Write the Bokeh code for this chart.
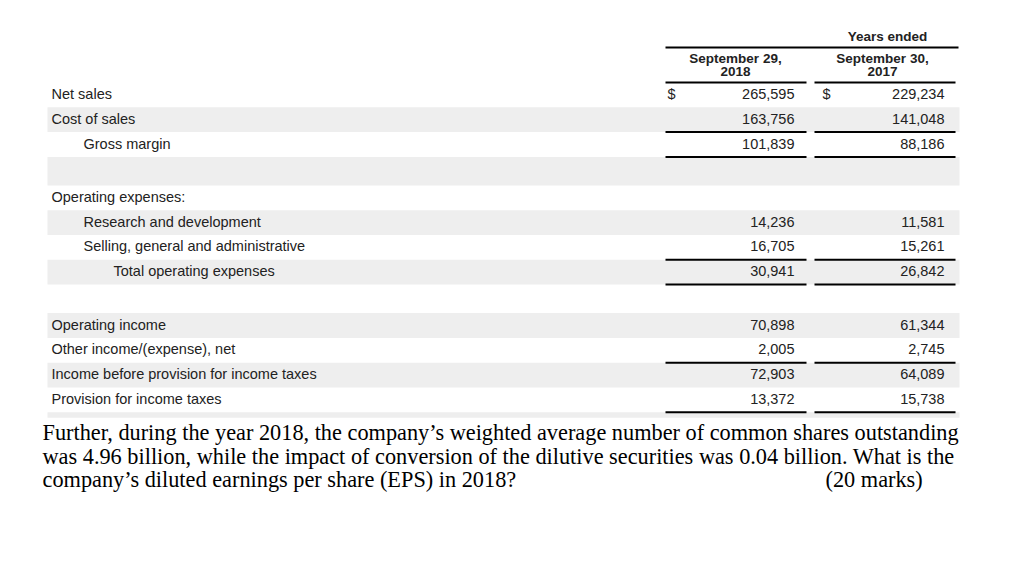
from bokeh.plotting import figure
from bokeh.models import ColumnDataSource, Range1d
from bokeh.embed import file_html
from bokeh.resources import INLINE
from bokeh.core.properties import value

# ---------------- data ----------------
row_labels = ["Net sales", "Cost of sales", "Gross margin", "",
              "Operating expenses:", "Research and development",
              "Selling, general and administrative", "Total operating expenses", "",
              "Operating income", "Other income/(expense), net",
              "Income before provision for income taxes", "Provision for income taxes", ""]
row_indent = [0, 0, 1, 0, 0, 1, 1, 2, 0, 0, 0, 0, 0, 0]
values_2018 = [265595, 163756, 101839, None, None, 14236, 16705, 30941, None,
               70898, 2005, 72903, 13372, None]
values_2017 = [229234, 141048, 88186, None, None, 11581, 15261, 26842, None,
               61344, 2745, 64089, 15738, None]
dollar_rows = [0]
rule_rows = [0, 2, 3, 7, 8, 11, 13]          # rows with a rule above them
header_top = "Years ended"
col_header_1 = ["September 29,", "2018"]
col_header_2 = ["September 30,", "2017"]
question_lines = [
    "Further, during the year 2018, the company\u2019s weighted average number of common shares outstanding",
    "was 4.96 billion, while the impact of conversion of the dilutive securities was 0.04 billion. What is the",
    "company\u2019s diluted earnings per share (EPS) in 2018?",
]
marks_text = "(20 marks)"

# ---------------- layout ----------------
W, H = 1019, 545
p = figure(width=W, height=H, output_backend="svg", toolbar_location=None,
           x_range=Range1d(0, W), y_range=Range1d(H, 0),
           min_border=0, x_axis_location=None, y_axis_location=None)
p.grid.visible = False
p.outline_line_color = None
p.background_fill_color = "white"
p.border_fill_color = "white"

SANS = value("Liberation Sans")
SERIF = value("Liberation Serif")

row_h = [28.5 if (lab == "" and i < 13) else 24.8 for i, lab in enumerate(row_labels)]
tops = []
t = 82.0
for h in row_h:
    tops.append(t)
    t += h
bottoms = [tp + h for tp, h in zip(tops, row_h)]
bottoms[-1] = tops[-1] + 5.5
mids = [(a + b) / 2 - 1 for a, b in zip(tops, bottoms)]

# shaded bands
band_idx = [i for i in range(len(row_labels)) if i % 2 == 1]
p.quad(left=47, right=959, top=[tops[i] for i in band_idx], bottom=[bottoms[i] for i in band_idx],
       fill_color="#eeeeee", line_color=None)

# labels
indent_x = [51, 83, 113]
lab_src = ColumnDataSource(dict(
    x=[indent_x[row_indent[i]] for i in range(len(row_labels)) if row_labels[i]],
    y=[mids[i] for i in range(len(row_labels)) if row_labels[i]],
    t=[row_labels[i] for i in range(len(row_labels)) if row_labels[i]]))
p.text(x="x", y="y", text="t", source=lab_src, text_font=SANS, text_font_size="14.5px",
       text_color="#222222", text_baseline="middle", text_align="left")

# values
col_right = [794, 944]
for cx, vals in zip(col_right, [values_2018, values_2017]):
    idx = [i for i, v in enumerate(vals) if v is not None]
    src = ColumnDataSource(dict(x=[cx] * len(idx), y=[mids[i] for i in idx],
                                t=[f"{vals[i]:,}" for i in idx]))
    p.text(x="x", y="y", text="t", source=src, text_font=SANS, text_font_size="14.5px",
           text_color="#222222", text_baseline="middle", text_align="right")

# dollar signs
dollar_x = [667, 822]
for dx in dollar_x:
    src = ColumnDataSource(dict(x=[dx] * len(dollar_rows), y=[mids[i] for i in dollar_rows],
                                t=["$"] * len(dollar_rows)))
    p.text(x="x", y="y", text="t", source=src, text_font=SANS, text_font_size="14.5px",
           text_color="#222222", text_baseline="middle", text_align="left")

# rules
col_spans = [(665, 806), (814, 955)]
for (x0, x1) in col_spans:
    p.segment(x0=[x0] * len(rule_rows), x1=[x1] * len(rule_rows),
              y0=[tops[i] for i in rule_rows], y1=[tops[i] for i in rule_rows],
              line_color="black", line_width=2)
p.segment(x0=[665], x1=[958], y0=[47], y1=[47], line_color="black", line_width=2)

# headers
p.text(x=[887], y=[36], text=[header_top], text_font=SANS, text_font_size="13.5px",
       text_font_style="bold", text_color="#222222", text_baseline="middle", text_align="center")
p.text(x=[735, 735], y=[58, 71], text=col_header_1, text_font=SANS, text_font_size="13.5px",
       text_font_style="bold", text_color="#222222", text_baseline="middle", text_align="center")
p.text(x=[882, 882], y=[58, 71], text=col_header_2, text_font=SANS, text_font_size="13.5px",
       text_font_style="bold", text_color="#222222", text_baseline="middle", text_align="center")

# question text
q_y = [432, 456, 479]
p.text(x=[42] * 3, y=q_y, text=question_lines, text_font=SERIF, text_font_size="22.3px",
       text_color="black", text_baseline="middle", text_align="left")
p.text(x=[825], y=[479], text=[marks_text], text_font=SERIF, text_font_size="22.3px",
       text_color="black", text_baseline="middle", text_align="left")

open("out.html", "w").write(file_html(p, INLINE))
